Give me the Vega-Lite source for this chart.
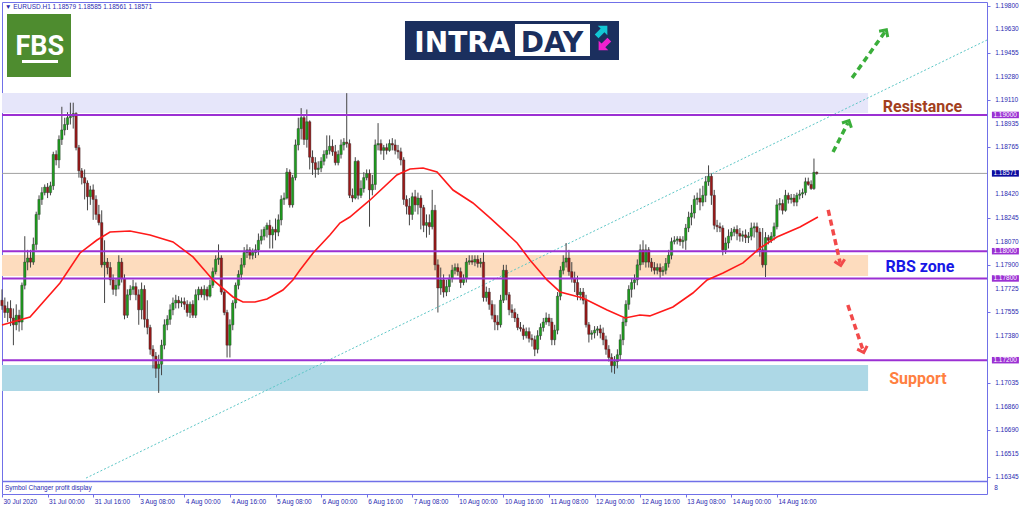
{
"$schema":"https://vega.github.io/schema/vega-lite/v6.json",
"width":985,"height":492,
"autosize":{"type":"none"},
"padding":{"left":2,"top":2,"right":37,"bottom":17},
"background":"white",
"config":{"view":{"stroke":"#7070E8","strokeWidth":1},"axis":{"grid":false,"domain":false,"labelFont":"Liberation Sans","labelFontSize":6.5,"labelColor":"#2A2AB0","tickColor":"#7070E8","tickSize":3,"labelOverlap":false}},
"datasets":{
"boxes":[
{"part":"res","i":0,"i2":304,"p":1.19161,"p2":1.19015},
{"part":"rbs","i":0,"i2":304,"p":1.17972,"p2":1.17818},
{"part":"sup","i":0,"i2":304,"p":1.17165,"p2":1.16974},
{"part":"fbs","i":1.755,"i2":24.22,"p":1.19741,"p2":1.19279},
{"part":"fbsline","i":7.02,"i2":19.66,"p":1.19404,"p2":1.19382},
{"part":"navy","i":141.45,"i2":216.57,"p":1.1969,"p2":1.19404},
{"part":"daybox","i":180.06,"i2":206.39,"p":1.19668,"p2":1.19433}
],
"yticks":[{"p":1.198},{"p":1.1963},{"p":1.19455},{"p":1.1928},{"p":1.1911},{"p":1.18935},{"p":1.18765},{"p":1.1842},{"p":1.18245},{"p":1.1807},{"p":1.179},{"p":1.17725},{"p":1.17555},{"p":1.1738},{"p":1.17035},{"p":1.1686},{"p":1.1669},{"p":1.16515},{"p":1.16345}],
"levels":[{"p":1.19,"k":"level"},{"p":1.18,"k":"level"},{"p":1.178,"k":"level"},{"p":1.172,"k":"level"},{"p":1.18571,"k":"current"},{"p":1.1631,"k":"frame"}],
"trend":[{"i":29.5,"p":1.16335},{"i":345.74,"p":1.1955}],
"ma":[{"i":0,"p":1.17459},{"i":9.83,"p":1.17517},{"i":20.36,"p":1.17767},{"i":27.38,"p":1.17987},{"i":33.35,"p":1.18082},{"i":37.91,"p":1.18141},{"i":44.93,"p":1.18148},{"i":51.95,"p":1.18119},{"i":60.02,"p":1.18068},{"i":67.04,"p":1.17958},{"i":74.06,"p":1.17789},{"i":81.08,"p":1.17664},{"i":84.59,"p":1.17627},{"i":88.8,"p":1.17627},{"i":93.0,"p":1.17649},{"i":98.6,"p":1.17715},{"i":102.1,"p":1.17789},{"i":104.6,"p":1.17862},{"i":109.2,"p":1.17987},{"i":115.1,"p":1.18119},{"i":118.6,"p":1.18207},{"i":122.1,"p":1.18251},{"i":129.2,"p":1.18376},{"i":138.6,"p":1.18559},{"i":143.2,"p":1.18603},{"i":147.8,"p":1.18611},{"i":152.7,"p":1.18581},{"i":158.3,"p":1.18449},{"i":165.3,"p":1.18354},{"i":171.3,"p":1.18244},{"i":175.9,"p":1.18156},{"i":180.8,"p":1.1806},{"i":185.3,"p":1.17936},{"i":191.3,"p":1.17789},{"i":195.9,"p":1.17701},{"i":203.9,"p":1.17657},{"i":212.4,"p":1.17569},{"i":218.7,"p":1.1751},{"i":223.9,"p":1.17532},{"i":227.4,"p":1.17525},{"i":235.5,"p":1.17591},{"i":242.5,"p":1.17693},{"i":247.5,"p":1.17789},{"i":253.1,"p":1.1784},{"i":260.1,"p":1.17914},{"i":266.1,"p":1.18024},{"i":272.0,"p":1.18104},{"i":280.1,"p":1.18178},{"i":286.4,"p":1.18251}],
"arrows":[
{"dir":"up","i":291.7,"p":1.18728,"i2":296.9,"p2":1.18941,"a":26.6},
{"dir":"up","i":298.4,"p":1.19272,"i2":309.9,"p2":1.19609,"a":34.6},
{"dir":"down","i":290.0,"p":1.18303,"i2":294.2,"p2":1.17914,"a":167.2},
{"dir":"down","i":296.9,"p":1.17605,"i2":302.2,"p2":1.17275,"a":162.3}
],
"texts":[
{"g":"hdr","t":"▼ EURUSD.H1  1.18579 1.18585 1.18561 1.18571","i":1.05,"p":1.19793},
{"g":"zone","t":"Resistance","i":323.1,"p":1.19022},
{"g":"zone","t":"RBS zone","i":322.2,"p":1.17848},
{"g":"zone","t":"Support","i":321.5,"p":1.17025},
{"g":"fbs","t":"FBS","i":13.3,"p":1.1944},
{"g":"intra","t":"INTRA","i":161.6,"p":1.19462},
{"g":"day","t":"DAY","i":193.05,"p":1.19462},
{"g":"sub","t":"Symbol Changer profit display","i":1.05,"p":1.16262},
{"g":"sub","t":"8","i":348.3,"p":1.16262}
],
"logoarrows":[{"g":"cyan","i":210.6,"p":1.19616,"a":45},{"g":"mag","i":211.3,"p":1.19514,"a":225}],
"candles":[
{"i":0,"o":1.1764,"h":1.1772,"l":1.1757,"c":1.1760},
{"i":1,"o":1.1760,"h":1.1766,"l":1.1751,"c":1.1755},
{"i":2,"o":1.1755,"h":1.1763,"l":1.1748,"c":1.1758},
{"i":3,"o":1.1758,"h":1.1764,"l":1.1745,"c":1.1751},
{"i":4,"o":1.1751,"h":1.1758,"l":1.1731,"c":1.1746},
{"i":5,"o":1.1746,"h":1.1761,"l":1.1742,"c":1.1753},
{"i":6,"o":1.1753,"h":1.1757,"l":1.1741,"c":1.1748},
{"i":7,"o":1.1748,"h":1.1777,"l":1.1742,"c":1.1775},
{"i":8,"o":1.1775,"h":1.1811,"l":1.1772,"c":1.1792},
{"i":9,"o":1.1792,"h":1.1801,"l":1.1786,"c":1.1795},
{"i":10,"o":1.1795,"h":1.1801,"l":1.1788,"c":1.1792},
{"i":11,"o":1.1792,"h":1.1810,"l":1.1790,"c":1.1805},
{"i":12,"o":1.1805,"h":1.1829,"l":1.1801,"c":1.1827},
{"i":13,"o":1.1827,"h":1.1841,"l":1.1823,"c":1.1838},
{"i":14,"o":1.1838,"h":1.1847,"l":1.1834,"c":1.1843},
{"i":15,"o":1.1843,"h":1.1849,"l":1.1841,"c":1.1847},
{"i":16,"o":1.1847,"h":1.1850,"l":1.1839,"c":1.1843},
{"i":17,"o":1.1843,"h":1.1851,"l":1.1841,"c":1.1848},
{"i":18,"o":1.1848,"h":1.1873,"l":1.1845,"c":1.1871},
{"i":19,"o":1.1871,"h":1.1874,"l":1.1863,"c":1.1867},
{"i":20,"o":1.1867,"h":1.1885,"l":1.1861,"c":1.1882},
{"i":21,"o":1.1882,"h":1.1906,"l":1.1878,"c":1.1889},
{"i":22,"o":1.1889,"h":1.1898,"l":1.1885,"c":1.1893},
{"i":23,"o":1.1893,"h":1.1902,"l":1.1889,"c":1.1898},
{"i":24,"o":1.1898,"h":1.1909,"l":1.1893,"c":1.1899},
{"i":25,"o":1.1899,"h":1.1909,"l":1.1890,"c":1.1901},
{"i":26,"o":1.1901,"h":1.1902,"l":1.1874,"c":1.1876},
{"i":27,"o":1.1876,"h":1.1878,"l":1.1854,"c":1.1859},
{"i":28,"o":1.1859,"h":1.1861,"l":1.1849,"c":1.1854},
{"i":29,"o":1.1854,"h":1.1860,"l":1.1838,"c":1.1850},
{"i":30,"o":1.1850,"h":1.1852,"l":1.1830,"c":1.1840},
{"i":31,"o":1.1840,"h":1.1848,"l":1.1834,"c":1.1845},
{"i":32,"o":1.1845,"h":1.1849,"l":1.1823,"c":1.1838},
{"i":33,"o":1.1838,"h":1.1841,"l":1.1823,"c":1.1827},
{"i":34,"o":1.1827,"h":1.1834,"l":1.1819,"c":1.1821},
{"i":35,"o":1.1821,"h":1.1830,"l":1.1788,"c":1.1790},
{"i":36,"o":1.1790,"h":1.1808,"l":1.1762,"c":1.1792},
{"i":37,"o":1.1792,"h":1.1795,"l":1.1783,"c":1.1788},
{"i":38,"o":1.1788,"h":1.1792,"l":1.1775,"c":1.1779},
{"i":39,"o":1.1779,"h":1.1783,"l":1.1768,"c":1.1772},
{"i":40,"o":1.1772,"h":1.1780,"l":1.1767,"c":1.1775},
{"i":41,"o":1.1775,"h":1.1797,"l":1.1772,"c":1.1792},
{"i":42,"o":1.1792,"h":1.1795,"l":1.1777,"c":1.1780},
{"i":43,"o":1.1780,"h":1.1783,"l":1.1750,"c":1.1753},
{"i":44,"o":1.1753,"h":1.1772,"l":1.1751,"c":1.1768},
{"i":45,"o":1.1768,"h":1.1775,"l":1.1764,"c":1.1772},
{"i":46,"o":1.1772,"h":1.1779,"l":1.1768,"c":1.1774},
{"i":47,"o":1.1774,"h":1.1777,"l":1.1764,"c":1.1768},
{"i":48,"o":1.1768,"h":1.1772,"l":1.1746,"c":1.1757},
{"i":49,"o":1.1757,"h":1.1777,"l":1.1750,"c":1.1772},
{"i":50,"o":1.1772,"h":1.1775,"l":1.1744,"c":1.1750},
{"i":51,"o":1.1750,"h":1.1764,"l":1.1739,"c":1.1744},
{"i":52,"o":1.1744,"h":1.1746,"l":1.1724,"c":1.1728},
{"i":53,"o":1.1728,"h":1.1731,"l":1.1714,"c":1.1723},
{"i":54,"o":1.1723,"h":1.1726,"l":1.1707,"c":1.1714},
{"i":55,"o":1.1714,"h":1.1724,"l":1.1696,"c":1.1717},
{"i":56,"o":1.1717,"h":1.1735,"l":1.1709,"c":1.1731},
{"i":57,"o":1.1731,"h":1.1750,"l":1.1728,"c":1.1746},
{"i":58,"o":1.1746,"h":1.1753,"l":1.1742,"c":1.1750},
{"i":59,"o":1.1750,"h":1.1761,"l":1.1746,"c":1.1757},
{"i":60,"o":1.1757,"h":1.1766,"l":1.1753,"c":1.1762},
{"i":61,"o":1.1762,"h":1.1768,"l":1.1758,"c":1.1764},
{"i":62,"o":1.1764,"h":1.1767,"l":1.1758,"c":1.1762},
{"i":63,"o":1.1762,"h":1.1766,"l":1.1759,"c":1.1763},
{"i":64,"o":1.1763,"h":1.1766,"l":1.1757,"c":1.1761},
{"i":65,"o":1.1761,"h":1.1764,"l":1.1752,"c":1.1755},
{"i":66,"o":1.1755,"h":1.1763,"l":1.1751,"c":1.1761},
{"i":67,"o":1.1761,"h":1.1764,"l":1.1751,"c":1.1753},
{"i":68,"o":1.1753,"h":1.1772,"l":1.1751,"c":1.1768},
{"i":69,"o":1.1768,"h":1.1774,"l":1.1764,"c":1.1772},
{"i":70,"o":1.1772,"h":1.1774,"l":1.1766,"c":1.1768},
{"i":71,"o":1.1768,"h":1.1775,"l":1.1764,"c":1.1772},
{"i":72,"o":1.1772,"h":1.1774,"l":1.1764,"c":1.1767},
{"i":73,"o":1.1767,"h":1.1779,"l":1.1766,"c":1.1775},
{"i":74,"o":1.1775,"h":1.1788,"l":1.1773,"c":1.1785},
{"i":75,"o":1.1785,"h":1.1797,"l":1.1783,"c":1.1794},
{"i":76,"o":1.1794,"h":1.1805,"l":1.1790,"c":1.1795},
{"i":77,"o":1.1795,"h":1.1797,"l":1.1768,"c":1.1770},
{"i":78,"o":1.1770,"h":1.1772,"l":1.1753,"c":1.1755},
{"i":79,"o":1.1755,"h":1.1757,"l":1.1722,"c":1.1731},
{"i":80,"o":1.1731,"h":1.1750,"l":1.1722,"c":1.1746},
{"i":81,"o":1.1746,"h":1.1764,"l":1.1742,"c":1.1762},
{"i":82,"o":1.1762,"h":1.1777,"l":1.1758,"c":1.1775},
{"i":83,"o":1.1775,"h":1.1786,"l":1.1772,"c":1.1783},
{"i":84,"o":1.1783,"h":1.1795,"l":1.1779,"c":1.1790},
{"i":85,"o":1.1790,"h":1.1803,"l":1.1788,"c":1.1799},
{"i":86,"o":1.1799,"h":1.1805,"l":1.1795,"c":1.1801},
{"i":87,"o":1.1801,"h":1.1803,"l":1.1794,"c":1.1797},
{"i":88,"o":1.1797,"h":1.1802,"l":1.1794,"c":1.1799},
{"i":89,"o":1.1799,"h":1.1805,"l":1.1795,"c":1.1801},
{"i":90,"o":1.1801,"h":1.1813,"l":1.1797,"c":1.1808},
{"i":91,"o":1.1808,"h":1.1816,"l":1.1805,"c":1.1811},
{"i":92,"o":1.1811,"h":1.1818,"l":1.1808,"c":1.1816},
{"i":93,"o":1.1816,"h":1.1821,"l":1.1810,"c":1.1819},
{"i":94,"o":1.1819,"h":1.1823,"l":1.1802,"c":1.1812},
{"i":95,"o":1.1812,"h":1.1818,"l":1.1802,"c":1.1816},
{"i":96,"o":1.1816,"h":1.1824,"l":1.1808,"c":1.1814},
{"i":97,"o":1.1814,"h":1.1827,"l":1.1811,"c":1.1823},
{"i":98,"o":1.1823,"h":1.1841,"l":1.1819,"c":1.1838},
{"i":99,"o":1.1838,"h":1.1843,"l":1.1834,"c":1.1839},
{"i":100,"o":1.1839,"h":1.1861,"l":1.1838,"c":1.1858},
{"i":101,"o":1.1858,"h":1.1860,"l":1.1832,"c":1.1834},
{"i":102,"o":1.1834,"h":1.1856,"l":1.1832,"c":1.1854},
{"i":103,"o":1.1854,"h":1.1882,"l":1.1852,"c":1.1878},
{"i":104,"o":1.1878,"h":1.1898,"l":1.1874,"c":1.1890},
{"i":105,"o":1.1890,"h":1.1905,"l":1.1882,"c":1.1898},
{"i":106,"o":1.1898,"h":1.1900,"l":1.1878,"c":1.1882},
{"i":107,"o":1.1882,"h":1.1904,"l":1.1876,"c":1.1895},
{"i":108,"o":1.1895,"h":1.1896,"l":1.1860,"c":1.1869},
{"i":109,"o":1.1869,"h":1.1874,"l":1.1856,"c":1.1865},
{"i":110,"o":1.1865,"h":1.1869,"l":1.1854,"c":1.1860},
{"i":111,"o":1.1860,"h":1.1866,"l":1.1856,"c":1.1861},
{"i":112,"o":1.1861,"h":1.1869,"l":1.1858,"c":1.1866},
{"i":113,"o":1.1866,"h":1.1874,"l":1.1863,"c":1.1871},
{"i":114,"o":1.1871,"h":1.1885,"l":1.1868,"c":1.1874},
{"i":115,"o":1.1874,"h":1.1885,"l":1.1871,"c":1.1877},
{"i":116,"o":1.1877,"h":1.1882,"l":1.1870,"c":1.1873},
{"i":117,"o":1.1873,"h":1.1878,"l":1.1863,"c":1.1865},
{"i":118,"o":1.1865,"h":1.1874,"l":1.1863,"c":1.1871},
{"i":119,"o":1.1871,"h":1.1882,"l":1.1868,"c":1.1878},
{"i":120,"o":1.1878,"h":1.1883,"l":1.1874,"c":1.1880},
{"i":121,"o":1.1880,"h":1.1916,"l":1.1876,"c":1.1879},
{"i":122,"o":1.1879,"h":1.1882,"l":1.1839,"c":1.1841},
{"i":123,"o":1.1841,"h":1.1846,"l":1.1836,"c":1.1839},
{"i":124,"o":1.1839,"h":1.1869,"l":1.1838,"c":1.1866},
{"i":125,"o":1.1866,"h":1.1867,"l":1.1838,"c":1.1841},
{"i":126,"o":1.1841,"h":1.1852,"l":1.1839,"c":1.1846},
{"i":127,"o":1.1846,"h":1.1858,"l":1.1843,"c":1.1854},
{"i":128,"o":1.1854,"h":1.1860,"l":1.1852,"c":1.1857},
{"i":129,"o":1.1857,"h":1.1860,"l":1.1818,"c":1.1845},
{"i":130,"o":1.1845,"h":1.1856,"l":1.1841,"c":1.1849},
{"i":131,"o":1.1849,"h":1.1882,"l":1.1845,"c":1.1878},
{"i":132,"o":1.1878,"h":1.1894,"l":1.1874,"c":1.1879},
{"i":133,"o":1.1879,"h":1.1882,"l":1.1871,"c":1.1874},
{"i":134,"o":1.1874,"h":1.1878,"l":1.1867,"c":1.1876},
{"i":135,"o":1.1876,"h":1.1879,"l":1.1871,"c":1.1874},
{"i":136,"o":1.1874,"h":1.1882,"l":1.1873,"c":1.1879},
{"i":137,"o":1.1879,"h":1.1883,"l":1.1874,"c":1.1878},
{"i":138,"o":1.1878,"h":1.1882,"l":1.1871,"c":1.1874},
{"i":139,"o":1.1874,"h":1.1878,"l":1.1868,"c":1.1873},
{"i":140,"o":1.1873,"h":1.1876,"l":1.1863,"c":1.1867},
{"i":141,"o":1.1867,"h":1.1869,"l":1.1834,"c":1.1838},
{"i":142,"o":1.1838,"h":1.1841,"l":1.1827,"c":1.1833},
{"i":143,"o":1.1833,"h":1.1839,"l":1.1819,"c":1.1827},
{"i":144,"o":1.1827,"h":1.1843,"l":1.1823,"c":1.1840},
{"i":145,"o":1.1840,"h":1.1845,"l":1.1829,"c":1.1834},
{"i":146,"o":1.1834,"h":1.1843,"l":1.1827,"c":1.1839},
{"i":147,"o":1.1839,"h":1.1841,"l":1.1816,"c":1.1832},
{"i":148,"o":1.1832,"h":1.1834,"l":1.1814,"c":1.1819},
{"i":149,"o":1.1819,"h":1.1827,"l":1.1810,"c":1.1821},
{"i":150,"o":1.1821,"h":1.1827,"l":1.1812,"c":1.1818},
{"i":151,"o":1.1818,"h":1.1845,"l":1.1816,"c":1.1830},
{"i":152,"o":1.1830,"h":1.1834,"l":1.1786,"c":1.1790},
{"i":153,"o":1.1790,"h":1.1794,"l":1.1755,"c":1.1773},
{"i":154,"o":1.1773,"h":1.1788,"l":1.1768,"c":1.1779},
{"i":155,"o":1.1779,"h":1.1783,"l":1.1766,"c":1.1770},
{"i":156,"o":1.1770,"h":1.1779,"l":1.1767,"c":1.1774},
{"i":157,"o":1.1774,"h":1.1783,"l":1.1770,"c":1.1780},
{"i":158,"o":1.1780,"h":1.1790,"l":1.1777,"c":1.1786},
{"i":159,"o":1.1786,"h":1.1791,"l":1.1783,"c":1.1788},
{"i":160,"o":1.1788,"h":1.1791,"l":1.1782,"c":1.1785},
{"i":161,"o":1.1785,"h":1.1788,"l":1.1773,"c":1.1777},
{"i":162,"o":1.1777,"h":1.1783,"l":1.1775,"c":1.1780},
{"i":163,"o":1.1780,"h":1.1795,"l":1.1777,"c":1.1792},
{"i":164,"o":1.1792,"h":1.1797,"l":1.1790,"c":1.1793},
{"i":165,"o":1.1793,"h":1.1797,"l":1.1790,"c":1.1792},
{"i":166,"o":1.1792,"h":1.1797,"l":1.1789,"c":1.1794},
{"i":167,"o":1.1794,"h":1.1797,"l":1.1788,"c":1.1791},
{"i":168,"o":1.1791,"h":1.1795,"l":1.1788,"c":1.1792},
{"i":169,"o":1.1792,"h":1.1799,"l":1.1763,"c":1.1766},
{"i":170,"o":1.1766,"h":1.1774,"l":1.1763,"c":1.1770},
{"i":171,"o":1.1770,"h":1.1773,"l":1.1757,"c":1.1761},
{"i":172,"o":1.1761,"h":1.1764,"l":1.1750,"c":1.1753},
{"i":173,"o":1.1753,"h":1.1761,"l":1.1742,"c":1.1748},
{"i":174,"o":1.1748,"h":1.1753,"l":1.1742,"c":1.1746},
{"i":175,"o":1.1746,"h":1.1768,"l":1.1744,"c":1.1764},
{"i":176,"o":1.1764,"h":1.1790,"l":1.1762,"c":1.1786},
{"i":177,"o":1.1786,"h":1.1790,"l":1.1764,"c":1.1768},
{"i":178,"o":1.1768,"h":1.1770,"l":1.1753,"c":1.1757},
{"i":179,"o":1.1757,"h":1.1761,"l":1.1751,"c":1.1755},
{"i":180,"o":1.1755,"h":1.1758,"l":1.1748,"c":1.1751},
{"i":181,"o":1.1751,"h":1.1754,"l":1.1742,"c":1.1744},
{"i":182,"o":1.1744,"h":1.1748,"l":1.1741,"c":1.1743},
{"i":183,"o":1.1743,"h":1.1746,"l":1.1735,"c":1.1738},
{"i":184,"o":1.1738,"h":1.1744,"l":1.1736,"c":1.1741},
{"i":185,"o":1.1741,"h":1.1744,"l":1.1733,"c":1.1736},
{"i":186,"o":1.1736,"h":1.1739,"l":1.1730,"c":1.1735},
{"i":187,"o":1.1735,"h":1.1738,"l":1.1723,"c":1.1728},
{"i":188,"o":1.1728,"h":1.1742,"l":1.1725,"c":1.1738},
{"i":189,"o":1.1738,"h":1.1747,"l":1.1735,"c":1.1744},
{"i":190,"o":1.1744,"h":1.1751,"l":1.1741,"c":1.1748},
{"i":191,"o":1.1748,"h":1.1755,"l":1.1746,"c":1.1751},
{"i":192,"o":1.1751,"h":1.1754,"l":1.1745,"c":1.1748},
{"i":193,"o":1.1748,"h":1.1751,"l":1.1731,"c":1.1735},
{"i":194,"o":1.1735,"h":1.1746,"l":1.1731,"c":1.1742},
{"i":195,"o":1.1742,"h":1.1770,"l":1.1739,"c":1.1767},
{"i":196,"o":1.1767,"h":1.1789,"l":1.1764,"c":1.1786},
{"i":197,"o":1.1786,"h":1.1797,"l":1.1783,"c":1.1792},
{"i":198,"o":1.1792,"h":1.1806,"l":1.1788,"c":1.1795},
{"i":199,"o":1.1795,"h":1.1801,"l":1.1782,"c":1.1785},
{"i":200,"o":1.1785,"h":1.1792,"l":1.1777,"c":1.1780},
{"i":201,"o":1.1780,"h":1.1785,"l":1.1770,"c":1.1777},
{"i":202,"o":1.1777,"h":1.1782,"l":1.1764,"c":1.1768},
{"i":203,"o":1.1768,"h":1.1773,"l":1.1764,"c":1.1770},
{"i":204,"o":1.1770,"h":1.1773,"l":1.1761,"c":1.1764},
{"i":205,"o":1.1764,"h":1.1768,"l":1.1744,"c":1.1746},
{"i":206,"o":1.1746,"h":1.1748,"l":1.1733,"c":1.1739},
{"i":207,"o":1.1739,"h":1.1742,"l":1.1735,"c":1.1740},
{"i":208,"o":1.1740,"h":1.1745,"l":1.1736,"c":1.1742},
{"i":209,"o":1.1742,"h":1.1745,"l":1.1738,"c":1.1743},
{"i":210,"o":1.1743,"h":1.1746,"l":1.1736,"c":1.1740},
{"i":211,"o":1.1740,"h":1.1744,"l":1.1731,"c":1.1735},
{"i":212,"o":1.1735,"h":1.1738,"l":1.1724,"c":1.1728},
{"i":213,"o":1.1728,"h":1.1731,"l":1.1719,"c":1.1722},
{"i":214,"o":1.1722,"h":1.1725,"l":1.1711,"c":1.1716},
{"i":215,"o":1.1716,"h":1.1723,"l":1.1710,"c":1.1719},
{"i":216,"o":1.1719,"h":1.1728,"l":1.1714,"c":1.1724},
{"i":217,"o":1.1724,"h":1.1739,"l":1.1720,"c":1.1735},
{"i":218,"o":1.1735,"h":1.1751,"l":1.1731,"c":1.1748},
{"i":219,"o":1.1748,"h":1.1764,"l":1.1745,"c":1.1761},
{"i":220,"o":1.1761,"h":1.1775,"l":1.1757,"c":1.1772},
{"i":221,"o":1.1772,"h":1.1780,"l":1.1766,"c":1.1777},
{"i":222,"o":1.1777,"h":1.1783,"l":1.1772,"c":1.1779},
{"i":223,"o":1.1779,"h":1.1794,"l":1.1775,"c":1.1790},
{"i":224,"o":1.1790,"h":1.1805,"l":1.1786,"c":1.1801},
{"i":225,"o":1.1801,"h":1.1808,"l":1.1790,"c":1.1792},
{"i":226,"o":1.1792,"h":1.1805,"l":1.1788,"c":1.1801},
{"i":227,"o":1.1801,"h":1.1803,"l":1.1788,"c":1.1792},
{"i":228,"o":1.1792,"h":1.1795,"l":1.1785,"c":1.1788},
{"i":229,"o":1.1788,"h":1.1792,"l":1.1783,"c":1.1786},
{"i":230,"o":1.1786,"h":1.1791,"l":1.1783,"c":1.1788},
{"i":231,"o":1.1788,"h":1.1791,"l":1.1780,"c":1.1785},
{"i":232,"o":1.1785,"h":1.1789,"l":1.1782,"c":1.1786},
{"i":233,"o":1.1786,"h":1.1795,"l":1.1783,"c":1.1791},
{"i":234,"o":1.1791,"h":1.1801,"l":1.1788,"c":1.1797},
{"i":235,"o":1.1797,"h":1.1810,"l":1.1794,"c":1.1807},
{"i":236,"o":1.1807,"h":1.1811,"l":1.1805,"c":1.1808},
{"i":237,"o":1.1808,"h":1.1811,"l":1.1805,"c":1.1809},
{"i":238,"o":1.1809,"h":1.1811,"l":1.1804,"c":1.1807},
{"i":239,"o":1.1807,"h":1.1811,"l":1.1802,"c":1.1808},
{"i":240,"o":1.1808,"h":1.1820,"l":1.1801,"c":1.1817},
{"i":241,"o":1.1817,"h":1.1829,"l":1.1814,"c":1.1825},
{"i":242,"o":1.1825,"h":1.1834,"l":1.1819,"c":1.1828},
{"i":243,"o":1.1828,"h":1.1841,"l":1.1824,"c":1.1838},
{"i":244,"o":1.1838,"h":1.1843,"l":1.1834,"c":1.1839},
{"i":245,"o":1.1839,"h":1.1846,"l":1.1830,"c":1.1836},
{"i":246,"o":1.1836,"h":1.1848,"l":1.1833,"c":1.1841},
{"i":247,"o":1.1841,"h":1.1855,"l":1.1836,"c":1.1851},
{"i":248,"o":1.1851,"h":1.1863,"l":1.1848,"c":1.1855},
{"i":249,"o":1.1855,"h":1.1857,"l":1.1834,"c":1.1841},
{"i":250,"o":1.1841,"h":1.1845,"l":1.1816,"c":1.1819},
{"i":251,"o":1.1819,"h":1.1823,"l":1.1814,"c":1.1818},
{"i":252,"o":1.1818,"h":1.1821,"l":1.1814,"c":1.1817},
{"i":253,"o":1.1817,"h":1.1819,"l":1.1797,"c":1.1801},
{"i":254,"o":1.1801,"h":1.1810,"l":1.1798,"c":1.1806},
{"i":255,"o":1.1806,"h":1.1816,"l":1.1802,"c":1.1811},
{"i":256,"o":1.1811,"h":1.1817,"l":1.1808,"c":1.1814},
{"i":257,"o":1.1814,"h":1.1818,"l":1.1811,"c":1.1816},
{"i":258,"o":1.1816,"h":1.1819,"l":1.1808,"c":1.1813},
{"i":259,"o":1.1813,"h":1.1817,"l":1.1807,"c":1.1811},
{"i":260,"o":1.1811,"h":1.1815,"l":1.1807,"c":1.1812},
{"i":261,"o":1.1812,"h":1.1816,"l":1.1806,"c":1.1810},
{"i":262,"o":1.1810,"h":1.1814,"l":1.1806,"c":1.1811},
{"i":263,"o":1.1811,"h":1.1821,"l":1.1808,"c":1.1817},
{"i":264,"o":1.1817,"h":1.1821,"l":1.1810,"c":1.1818},
{"i":265,"o":1.1818,"h":1.1821,"l":1.1799,"c":1.1814},
{"i":266,"o":1.1814,"h":1.1817,"l":1.1796,"c":1.1801},
{"i":267,"o":1.1801,"h":1.1817,"l":1.1788,"c":1.1790},
{"i":268,"o":1.1790,"h":1.1814,"l":1.1781,"c":1.1810},
{"i":269,"o":1.1810,"h":1.1812,"l":1.1805,"c":1.1808},
{"i":270,"o":1.1808,"h":1.1814,"l":1.1806,"c":1.1811},
{"i":271,"o":1.1811,"h":1.1821,"l":1.1808,"c":1.1818},
{"i":272,"o":1.1818,"h":1.1838,"l":1.1816,"c":1.1834},
{"i":273,"o":1.1834,"h":1.1839,"l":1.1830,"c":1.1835},
{"i":274,"o":1.1835,"h":1.1838,"l":1.1827,"c":1.1830},
{"i":275,"o":1.1830,"h":1.1845,"l":1.1829,"c":1.1841},
{"i":276,"o":1.1841,"h":1.1843,"l":1.1835,"c":1.1838},
{"i":277,"o":1.1838,"h":1.1842,"l":1.1835,"c":1.1839},
{"i":278,"o":1.1839,"h":1.1842,"l":1.1833,"c":1.1836},
{"i":279,"o":1.1836,"h":1.1843,"l":1.1833,"c":1.1841},
{"i":280,"o":1.1841,"h":1.1845,"l":1.1838,"c":1.1842},
{"i":281,"o":1.1842,"h":1.1846,"l":1.1839,"c":1.1843},
{"i":282,"o":1.1843,"h":1.1854,"l":1.1841,"c":1.1851},
{"i":283,"o":1.1851,"h":1.1854,"l":1.1848,"c":1.1849},
{"i":284,"o":1.1849,"h":1.1852,"l":1.1845,"c":1.1846},
{"i":285,"o":1.1846,"h":1.1868,"l":1.1845,"c":1.18579},
{"i":286,"o":1.18579,"h":1.18585,"l":1.18561,"c":1.18571}
]
},
"layer":[
{"data":{"name":"boxes"},"mark":{"type":"rect"},
 "encoding":{
  "x":{"field":"i","type":"quantitative","title":null,"scale":{"domain":[0,345.74],"nice":false,"zero":false,"padding":0},
   "axis":{"orient":"bottom","title":null,"values":[0,16,32,48,64,80,96,112,128,144,160,176,192,208,224,240,256,272],
    "labelExpr":"['30 Jul 2020','31 Jul 00:00','31 Jul 16:00','3 Aug 08:00','4 Aug 00:00','4 Aug 16:00','5 Aug 08:00','6 Aug 00:00','6 Aug 16:00','7 Aug 08:00','10 Aug 00:00','10 Aug 16:00','11 Aug 08:00','12 Aug 00:00','12 Aug 16:00','13 Aug 08:00','14 Aug 00:00','14 Aug 16:00'][round(datum.value/16)]",
    "labelAlign":"left","labelBaseline":"top","labelPadding":1,"labelOffset":1,"labelOverlap":false,"labelBound":false,"labelFlush":false}},
  "x2":{"field":"i2"},
  "y":{"field":"p","type":"quantitative","title":null,"scale":{"domain":[1.16218,1.19829],"nice":false,"zero":false},
   "axis":{"orient":"right","title":null,"values":[1.198,1.1963,1.19455,1.1928,1.1911,1.18935,1.18765,1.1842,1.18245,1.1807,1.179,1.17725,1.17555,1.1738,1.17035,1.1686,1.1669,1.16515,1.16345],
    "labels":false}},
  "y2":{"field":"p2"},
  "color":{"field":"part","type":"nominal","legend":null,"scale":{"domain":["res","rbs","sup","fbs","fbsline","navy","daybox"],"range":["#E6E6FA","#FDDCBE","#ADD8E6","#4E8C2F","#FFFFFF","#1B2F5E","#FFFFFF"]}}
 }},
{"data":{"name":"yticks"},"mark":{"type":"text","font":"Liberation Sans","fontSize":6.5,"align":"left","baseline":"middle","color":"#2A2AB0"},
 "encoding":{"x":{"datum":348.6,"type":"quantitative","scale":{"domain":[0,345.74],"nice":false,"zero":false,"padding":0}},
  "y":{"field":"p","type":"quantitative","title":null,"scale":{"domain":[1.16218,1.19829],"nice":false,"zero":false}},
  "text":{"field":"p","type":"quantitative","format":".5f"}}},
{"data":{"name":"levels"},"transform":[{"filter":"datum.k == 'current'"}],"mark":{"type":"rule","color":"#A0A0A0","strokeWidth":1},
 "encoding":{"y":{"field":"p","type":"quantitative","title":null,"scale":{"domain":[1.16218,1.19829],"nice":false,"zero":false}}}},
{"data":{"name":"trend"},"mark":{"type":"line","color":"#5CC6C6","strokeWidth":1,"strokeDash":[2,2]},
 "encoding":{"x":{"field":"i","type":"quantitative","title":null,"scale":{"domain":[0,345.74],"nice":false,"zero":false,"padding":0}},
  "y":{"field":"p","type":"quantitative","title":null,"scale":{"domain":[1.16218,1.19829],"nice":false,"zero":false}}}},
{"data":{"name":"candles"},"mark":{"type":"rule","color":"#444444","strokeWidth":1},
 "encoding":{"x":{"field":"i","type":"quantitative","title":null,"scale":{"domain":[0,345.74],"nice":false,"zero":false,"padding":0}},
  "y":{"field":"l","type":"quantitative","title":null,"scale":{"domain":[1.16218,1.19829],"nice":false,"zero":false}},
  "y2":{"field":"h"}}},
{"data":{"name":"candles"},"mark":{"type":"bar","size":2.4,"stroke":"#2A2A2A","strokeWidth":0.4},
 "encoding":{"x":{"field":"i","type":"quantitative","title":null,"scale":{"domain":[0,345.74],"nice":false,"zero":false,"padding":0}},
  "y":{"field":"o","type":"quantitative","title":null,"scale":{"domain":[1.16218,1.19829],"nice":false,"zero":false}},
  "y2":{"field":"c"},
  "color":{"condition":{"test":"datum.c >= datum.o","value":"#1E9E1E"},"value":"#9A1818"}}},
{"data":{"name":"levels"},"transform":[{"filter":"datum.k == 'level'"}],"mark":{"type":"rule","color":"#9B30D3","strokeWidth":2},
 "encoding":{"y":{"field":"p","type":"quantitative","title":null,"scale":{"domain":[1.16218,1.19829],"nice":false,"zero":false}}}},
{"data":{"name":"levels"},"transform":[{"filter":"datum.k == 'frame'"}],"mark":{"type":"rule","color":"#7070E8","strokeWidth":1.5},
 "encoding":{"y":{"field":"p","type":"quantitative","title":null,"scale":{"domain":[1.16218,1.19829],"nice":false,"zero":false}}}},
{"data":{"name":"ma"},"mark":{"type":"line","color":"#FF1A1A","strokeWidth":1.6},
 "encoding":{"x":{"field":"i","type":"quantitative","title":null,"scale":{"domain":[0,345.74],"nice":false,"zero":false,"padding":0}},
  "y":{"field":"p","type":"quantitative","title":null,"scale":{"domain":[1.16218,1.19829],"nice":false,"zero":false}}}},
{"data":{"name":"arrows"},"mark":{"type":"rule","strokeWidth":3.5,"strokeDash":[6,4]},
 "encoding":{"x":{"field":"i","type":"quantitative","title":null,"scale":{"domain":[0,345.74],"nice":false,"zero":false,"padding":0}},
  "x2":{"field":"i2"},
  "y":{"field":"p","type":"quantitative","title":null,"scale":{"domain":[1.16218,1.19829],"nice":false,"zero":false}},
  "y2":{"field":"p2"},
  "color":{"field":"dir","type":"nominal","legend":null,"scale":{"domain":["up","down"],"range":["#3AAE3A","#F24A4A"]}}}},
{"data":{"name":"arrows"},"mark":{"type":"point","shape":"M-1,0.5L0,-0.5L1,0.5","filled":false,"strokeWidth":3,"size":110,"opacity":1},
 "encoding":{"x":{"field":"i2","type":"quantitative","title":null,"scale":{"domain":[0,345.74],"nice":false,"zero":false,"padding":0}},
  "y":{"field":"p2","type":"quantitative","title":null,"scale":{"domain":[1.16218,1.19829],"nice":false,"zero":false}},
  "angle":{"field":"a","type":"quantitative","scale":null},
  "color":{"field":"dir","type":"nominal","legend":null,"scale":{"domain":["up","down"],"range":["#3AAE3A","#F24A4A"]}}}},
{"data":{"name":"texts"},"transform":[{"filter":"datum.g == 'zone'"}],"mark":{"type":"text","font":"Roboto","fontWeight":"bold","fontSize":16,"align":"center","baseline":"alphabetic"},
 "encoding":{"x":{"field":"i","type":"quantitative","title":null,"scale":{"domain":[0,345.74],"nice":false,"zero":false,"padding":0}},
  "y":{"field":"p","type":"quantitative","title":null,"scale":{"domain":[1.16218,1.19829],"nice":false,"zero":false}},
  "text":{"field":"t"},
  "color":{"field":"t","type":"nominal","legend":null,"scale":{"domain":["Resistance","RBS zone","Support"],"range":["#A3401D","#1717E6","#FF8040"]}}}},
{"data":{"name":"texts"},"transform":[{"filter":"datum.g == 'hdr' || datum.g == 'sub'"}],"mark":{"type":"text","font":"Liberation Sans","fontSize":6.5,"align":"left","baseline":"middle","color":"#2A2AB0"},
 "encoding":{"x":{"field":"i","type":"quantitative","title":null,"scale":{"domain":[0,345.74],"nice":false,"zero":false,"padding":0}},
  "y":{"field":"p","type":"quantitative","title":null,"scale":{"domain":[1.16218,1.19829],"nice":false,"zero":false}},
  "text":{"field":"t"}}},
{"data":{"name":"texts"},"transform":[{"filter":"datum.g == 'fbs'"}],"mark":{"type":"text","font":"Roboto","fontWeight":"bold","fontSize":27,"align":"center","baseline":"alphabetic","color":"#FFFFFF"},
 "encoding":{"x":{"field":"i","type":"quantitative","title":null,"scale":{"domain":[0,345.74],"nice":false,"zero":false,"padding":0}},
  "y":{"field":"p","type":"quantitative","title":null,"scale":{"domain":[1.16218,1.19829],"nice":false,"zero":false}},
  "text":{"field":"t"}}},
{"data":{"name":"texts"},"transform":[{"filter":"datum.g == 'intra'"}],"mark":{"type":"text","font":"DejaVu Sans","fontWeight":"bold","fontSize":28,"align":"center","baseline":"alphabetic","color":"#FFFFFF"},
 "encoding":{"x":{"field":"i","type":"quantitative","title":null,"scale":{"domain":[0,345.74],"nice":false,"zero":false,"padding":0}},
  "y":{"field":"p","type":"quantitative","title":null,"scale":{"domain":[1.16218,1.19829],"nice":false,"zero":false}},
  "text":{"field":"t"}}},
{"data":{"name":"texts"},"transform":[{"filter":"datum.g == 'day'"}],"mark":{"type":"text","font":"DejaVu Sans","fontWeight":"bold","fontSize":28,"align":"center","baseline":"alphabetic","color":"#1B2F5E"},
 "encoding":{"x":{"field":"i","type":"quantitative","title":null,"scale":{"domain":[0,345.74],"nice":false,"zero":false,"padding":0}},
  "y":{"field":"p","type":"quantitative","title":null,"scale":{"domain":[1.16218,1.19829],"nice":false,"zero":false}},
  "text":{"field":"t"}}},
{"data":{"name":"logoarrows"},"mark":{"type":"point","shape":"M0,-1L0.9,-0.1L0.35,-0.1L0.35,1L-0.35,1L-0.35,-0.1L-0.9,-0.1Z","filled":true,"size":230,"opacity":1},
 "encoding":{"x":{"field":"i","type":"quantitative","title":null,"scale":{"domain":[0,345.74],"nice":false,"zero":false,"padding":0}},
  "y":{"field":"p","type":"quantitative","title":null,"scale":{"domain":[1.16218,1.19829],"nice":false,"zero":false}},
  "angle":{"field":"a","type":"quantitative","scale":null},
  "color":{"field":"g","type":"nominal","legend":null,"scale":{"domain":["cyan","mag"],"range":["#12C6D4","#F020CF"]}}}},
{"data":{"name":"levels"},"transform":[{"filter":"datum.k != 'frame'"}],"mark":{"type":"point","shape":"M-1,-0.24L1,-0.24L1,0.24L-1,0.24Z","filled":true,"size":729,"opacity":1},
 "encoding":{"x":{"datum":352.2,"type":"quantitative","scale":{"domain":[0,345.74],"nice":false,"zero":false,"padding":0}},
  "y":{"field":"p","type":"quantitative","title":null,"scale":{"domain":[1.16218,1.19829],"nice":false,"zero":false}},
  "color":{"field":"k","type":"nominal","legend":null,"scale":{"domain":["level","current"],"range":["#9B30D3","#0B0BA0"]}}}},
{"data":{"name":"levels"},"transform":[{"filter":"datum.k != 'frame'"}],"mark":{"type":"text","font":"Liberation Sans","fontSize":6.5,"align":"left","baseline":"middle","color":"#FFFFFF"},
 "encoding":{"x":{"datum":348.0,"type":"quantitative","scale":{"domain":[0,345.74],"nice":false,"zero":false,"padding":0}},
  "y":{"field":"p","type":"quantitative","title":null,"scale":{"domain":[1.16218,1.19829],"nice":false,"zero":false}},
  "text":{"field":"p","type":"quantitative","format":".5f"}}}
],
"resolve":{"scale":{"color":"independent"}}
}
